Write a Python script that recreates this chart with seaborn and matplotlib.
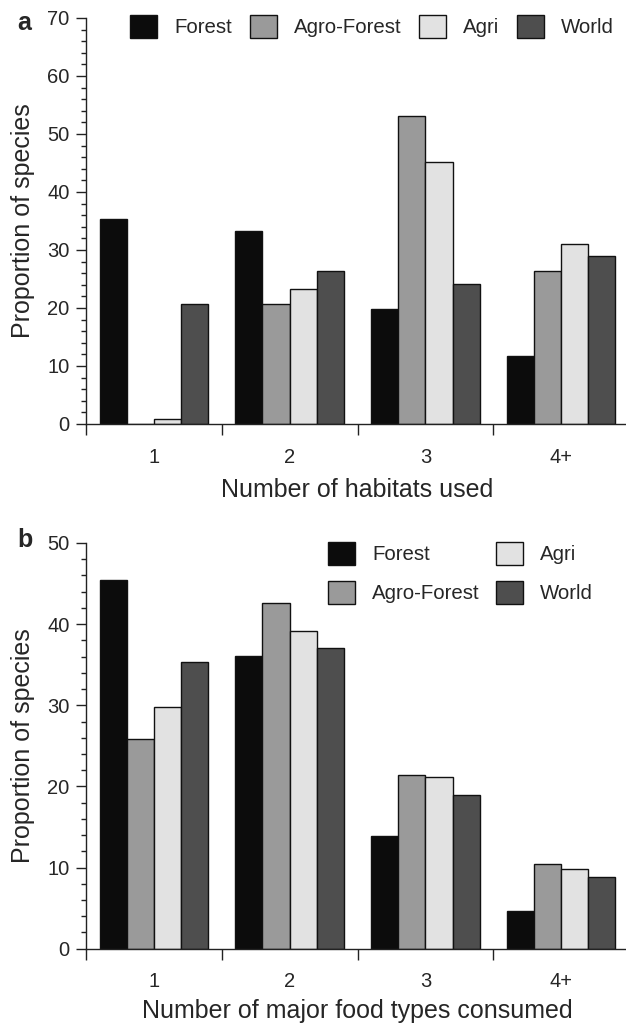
import matplotlib
matplotlib.use('Agg')
import numpy as np
import pandas as pd
import seaborn as sns
import matplotlib.pyplot as plt
from matplotlib.ticker import MultipleLocator

categories = ['1', '2', '3', '4+']
groups = ['Forest', 'Agro-Forest', 'Agri', 'World']

hab_forest = [35.4, 33.3, 19.9, 11.7]
hab_agro = [0.0, 20.7, 53.1, 26.3]
hab_agri = [0.8, 23.2, 45.2, 31.1]
hab_world = [20.7, 26.3, 24.1, 29.0]

food_forest = [45.5, 36.1, 13.9, 4.7]
food_agro = [25.8, 42.6, 21.4, 10.4]
food_agri = [29.8, 39.2, 21.2, 9.8]
food_world = [35.3, 37.0, 19.0, 8.8]

colors = ['#0c0c0c', '#9a9a9a', '#e2e2e2', '#4e4e4e']

sns.set_theme(style='ticks')
plt.rcParams['font.family'] = ['Liberation Sans', 'DejaVu Sans']
plt.rcParams['axes.edgecolor'] = '#222222'
plt.rcParams['axes.linewidth'] = 1.0


def long_df(series):
    rows = []
    for g, vals in zip(groups, series):
        for c, v in zip(categories, vals):
            rows.append({'cat': c, 'group': g, 'val': v})
    return pd.DataFrame(rows)


df_a = long_df([hab_forest, hab_agro, hab_agri, hab_world])
df_b = long_df([food_forest, food_agro, food_agri, food_world])
pal = dict(zip(groups, colors))

W, H = 626, 1025
fig = plt.figure(figsize=(W / 100, H / 100), dpi=100)
ax_a = fig.add_axes([86 / W, 1 - 424 / H, 543 / W, (424 - 18) / H])
ax_b = fig.add_axes([86 / W, 1 - 948.7 / H, 543 / W, (948.7 - 543) / H])


def draw(ax, df, ymax, xlabel, xpad):
    sns.barplot(data=df, x='cat', y='val', hue='group', order=categories,
                hue_order=groups, palette=pal, saturation=1, width=0.8,
                edgecolor='#111111', linewidth=1.0, ax=ax, legend=True)
    ax.set_xlim(-0.5, 3.5)
    ax.set_ylim(0, ymax)
    ax.yaxis.set_major_locator(MultipleLocator(10))
    ax.yaxis.set_minor_locator(MultipleLocator(2))
    ax.tick_params(axis='y', which='major', length=7.2, width=1.0, labelsize=14.5,
                   pad=4.5, direction='out', color='#222222')
    ax.tick_params(axis='y', which='minor', length=3.6, width=1.0,
                   direction='out', color='#222222')
    ax.set_xticks(range(len(categories)))
    ax.set_xticklabels(categories)
    ax.set_xticks(np.arange(-0.5, len(categories) + 0.5, 1.0), minor=True)
    ax.tick_params(axis='x', which='major', length=0, pad=17, labelsize=14.5)
    ax.tick_params(axis='x', which='minor', length=8, width=1.0,
                   direction='out', color='#222222')
    ax.set_ylabel('Proportion of species', fontsize=18, labelpad=9)
    ax.set_xlabel(xlabel, fontsize=18, labelpad=xpad)
    sns.despine(ax=ax)
    ax.spines['bottom'].set_bounds(-0.5, 3.5)


draw(ax_a, df_a, 70, 'Number of habitats used', 8)
draw(ax_b, df_b, 50, 'Number of major food types consumed', 5.5)

for ax, ncol, anchor, lsp, csp in [(ax_a, 4, (130 / W, 1 - 15 / H), 0.5, 0.88),
                                   (ax_b, 2, (328 / W, 1 - 542 / H), 0.81, 0.8)]:
    handles, labels = ax.get_legend_handles_labels()
    for h in handles:
        h.set_edgecolor('#111111')
        h.set_linewidth(1.0)
    if ax.get_legend() is not None:
        ax.get_legend().remove()
    ax.legend(handles, labels, ncol=ncol, loc='upper left',
              bbox_to_anchor=anchor, bbox_transform=fig.transFigure,
              frameon=False, fontsize=14.7, handlelength=1.32, handleheight=1.32,
              handletextpad=0.83, columnspacing=csp, labelspacing=lsp,
              borderpad=0, borderaxespad=0)

fig.text(17 / W, 1 - 30 / H, 'a', fontsize=18, fontweight='bold',
         ha='left', va='baseline')
fig.text(17 / W, 1 - 547 / H, 'b', fontsize=18, fontweight='bold',
         ha='left', va='baseline')

fig.savefig('out.png', dpi=100, facecolor='white')
